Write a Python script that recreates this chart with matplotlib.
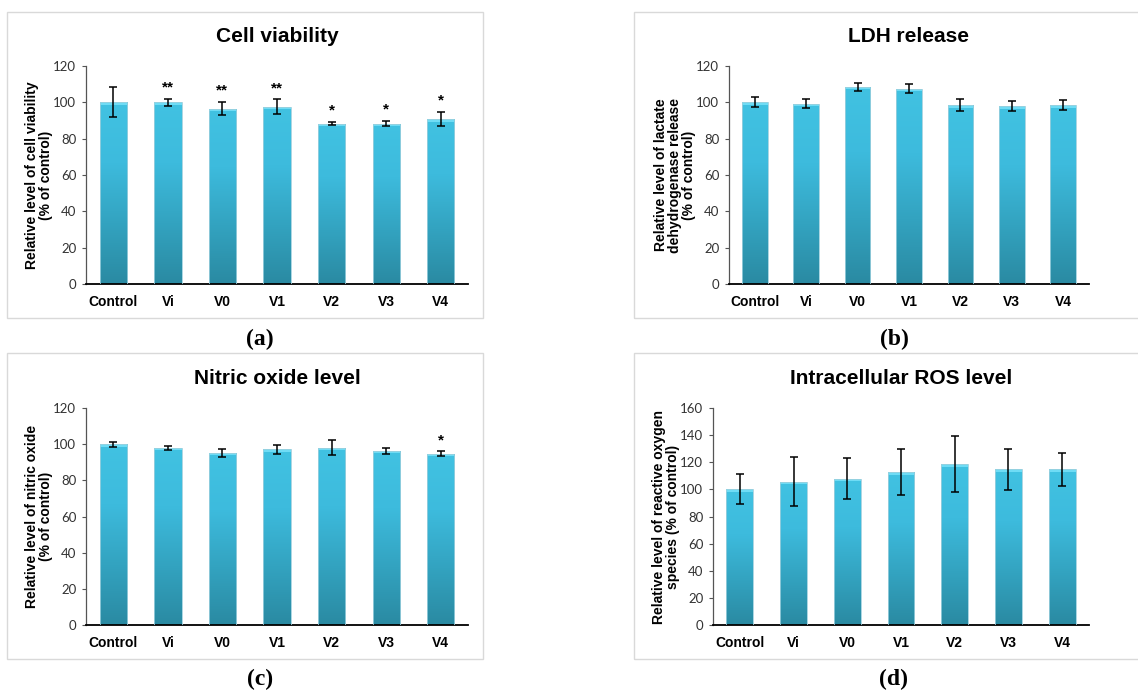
import numpy as np
import matplotlib
matplotlib.use("Agg")
import matplotlib.pyplot as plt
from matplotlib.colors import LinearSegmentedColormap
from matplotlib.patches import Rectangle

# === Data ===
groups = ["Control", "Vi", "V0", "V1", "V2", "V3", "V4"]

viability = [100, 100, 96.5, 97.6, 88.3, 88.3, 90.8]
viability_err = [8.3, 1.8, 3.7, 4.0, 1.0, 1.5, 3.7]
viability_sig = ["", "**", "**", "**", "*", "*", "*"]

ldh = [100, 99.3, 108.6, 107.5, 98.5, 97.8, 98.5]
ldh_err = [2.8, 2.5, 2.3, 2.5, 3.1, 2.7, 2.8]
ldh_sig = ["", "", "", "", "", "", ""]

nitric = [100, 98.0, 95.2, 97.2, 98.0, 96.3, 94.7]
nitric_err = [1.4, 1.1, 2.3, 2.5, 4.1, 1.5, 1.3]
nitric_sig = ["", "", "", "", "", "", "*"]

ros = [100, 105.6, 107.8, 112.7, 118.6, 114.7, 114.7]
ros_err = [11.0, 18.0, 15.2, 17.0, 20.6, 14.8, 12.4]
ros_sig = ["", "", "", "", "", "", ""]

W, H = 1138, 694
fig = plt.figure(figsize=(W / 100, H / 100), dpi=100)

bar_cmap = LinearSegmentedColormap.from_list(
    "bar", ["#2a8aa2", "#33a3c0", "#3dbbdd", "#41c2e2"])


def fx(px):
    return px / W


def fy(py):
    return 1 - py / H


def panel(rect, box, title, ylabel, vals, errs, sig, ymax, ystep, letter, title_y, letter_xy):
    # light grey frame round the panel
    x0, y0, x1, y1 = box
    fig.add_artist(Rectangle((fx(x0), fy(y1)), fx(x1 - x0), (y1 - y0) / H,
                             transform=fig.transFigure, fill=False,
                             edgecolor="#d9d9d9", lw=1.0, zorder=0))
    ax = fig.add_axes(rect)
    x = np.arange(len(groups))
    bars = ax.bar(x, vals, width=0.5, color="none", edgecolor="#9ccfdd",
                  lw=0.6, zorder=3)
    grad = np.linspace(0, 1, 256).reshape(-1, 1)
    for b in bars:
        bx, by = b.get_x(), b.get_y()
        bw, bh = b.get_width(), b.get_height()
        im = ax.imshow(grad, extent=[bx, bx + bw, by, by + bh], origin="lower",
                       cmap=bar_cmap, aspect="auto", zorder=2)
        im.set_clip_path(b)
        # lighter cap on the top of each bar
        cap = ymax * 0.012
        ax.add_patch(Rectangle((bx, by + bh - cap), bw, cap,
                               facecolor="#6fdcf5", edgecolor="none", zorder=2.5))
    ax.errorbar(x, vals, yerr=errs, fmt="none", ecolor="black", elinewidth=1.1,
                capsize=3.2, capthick=1.1, zorder=4)
    for xi, v, e, s in zip(x, vals, errs, sig):
        if s:
            ax.text(xi, v + e + ymax * 0.02, s, ha="center", va="bottom",
                    fontsize=11, fontweight="bold", family="Liberation Sans")
    ax.set_xlim(-0.5, len(groups) - 0.5)
    ax.set_ylim(0, ymax)
    ax.set_yticks(np.arange(0, ymax + 1, ystep))
    ax.set_xticks(x)
    ax.set_xticklabels(groups, fontsize=10, fontweight="bold", family="Liberation Sans")
    for t in ax.get_yticklabels():
        t.set_fontsize(9.5)
        t.set_family("Lato")
        t.set_color("#333333")
    ax.tick_params(axis="x", length=0, pad=8)
    ax.tick_params(axis="y", length=3, width=0.8, color="#555555", pad=4)
    for s in ["top", "right"]:
        ax.spines[s].set_visible(False)
    ax.spines["left"].set_color("#555555")
    ax.spines["left"].set_linewidth(0.9)
    ax.spines["bottom"].set_color("black")
    ax.spines["bottom"].set_linewidth(1.3)
    ax.set_ylabel(ylabel, fontsize=10, fontweight="bold", family="Liberation Sans",
                  labelpad=0, linespacing=1.0)
    cx = rect[0] + rect[2] / 2
    fig.text(cx, fy(title_y), title, ha="center", va="center", fontsize=15,
             fontweight="bold", family="Liberation Sans")
    fig.text(fx(letter_xy[0]), fy(letter_xy[1]), "(" + letter + ")",
             ha="center", va="center", fontsize=17,
             family="Liberation Serif", fontweight="bold")
    return ax


top_rect_y = fy(284)
top_h = (284 - 66) / H
bot_rect_y = fy(625)
bot_h = (625 - 408) / H

panel([fx(86), top_rect_y, fx(468 - 86), top_h], (7, 12, 483, 318),
      "Cell viability", "Relative level of cell viability\n(% of control)",
      viability, viability_err, viability_sig, 120, 20, "a", 36, (260, 339))
panel([fx(729), top_rect_y, fx(1089 - 729), top_h], (634, 12, 1150, 318),
      "LDH release", "Relative level of lactate\ndehydrogenase release\n(% of control)",
      ldh, ldh_err, ldh_sig, 120, 20, "b", 36, (894, 339))
panel([fx(86), bot_rect_y, fx(468 - 86), bot_h], (7, 353, 483, 659),
      "Nitric oxide level", "Relative level of nitric oxide\n(% of control)",
      nitric, nitric_err, nitric_sig, 120, 20, "c", 378, (260, 679))
panel([fx(713), bot_rect_y, fx(1089 - 713), bot_h], (634, 353, 1150, 659),
      "Intracellular ROS level", "Relative level of reactive oxygen\nspecies (% of control)",
      ros, ros_err, ros_sig, 160, 20, "d", 378, (893, 679))

fig.savefig("out.png", dpi=100)
